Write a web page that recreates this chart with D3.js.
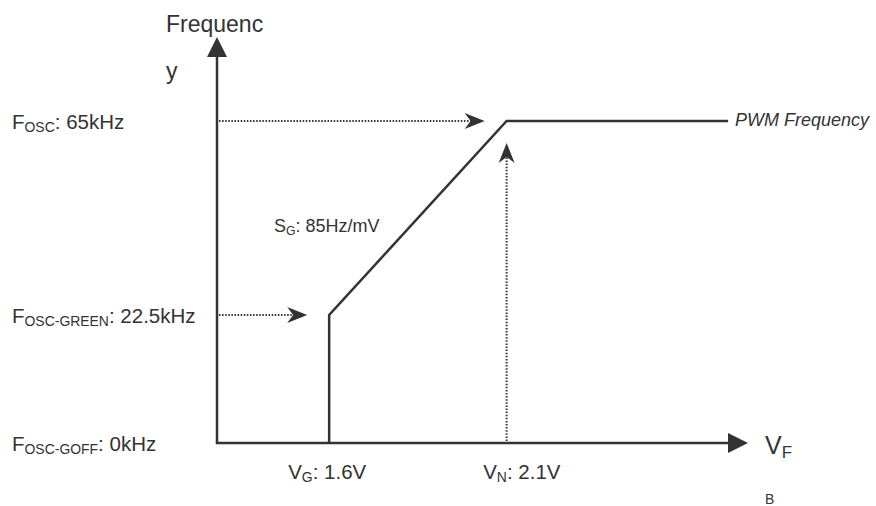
<!DOCTYPE html>
<html>
<head>
<meta charset="utf-8">
<script src="https://cdn.jsdelivr.net/npm/d3@7"></script>
<style>
  html, body { margin: 0; padding: 0; background: #fff; }
  svg { display: block; font-family: "Liberation Sans", Arial, Helvetica, sans-serif; }
</style>
</head>
<body>
<svg id="chart" width="876" height="506"></svg>
<script>
// ---- data ----
const vDomain = [1.284, 2.78];          // V_F axis extent (volts)
const fDomain = [0, 22.5, 65, 82];      // schematic (piecewise) frequency axis, kHz
const curveV = [1.6, 1.6, 2.1, 2.724];  // PWM frequency curve, volts
const curveF = [0, 22.5, 65, 65];       // PWM frequency curve, kHz
const levelValues = [0, 22.5, 65];
const levelSubs = ["OSC-GOFF", "OSC-GREEN", "OSC"];
const levelTexts = [": 0kHz", ": 22.5kHz", ": 65kHz"];
const voltValues = [1.6, 2.1];
const voltSubs = ["G", "N"];
const voltTexts = [": 1.6V", ": 2.1V"];
const slopeText = ": 85Hz/mV";
const curveName = "PWM Frequency";

// ---- layout ----
const svg = d3.select("#chart");
const col = "#333333";
const x = d3.scaleLinear().domain(vDomain).range([217, 748]);
const y = d3.scaleLinear().domain(fDomain).range([443, 315, 121, 37]);

const x0 = x(vDomain[0]), y0 = y(0);
const gap = 22;

function arrowHead(tx, ty, angleDeg, len, half, notch) {
  const p = d3.path();
  p.moveTo(0, 0);
  p.lineTo(-len, -half);
  p.lineTo(-len + notch, 0);
  p.lineTo(-len, half);
  p.closePath();
  svg.append("path")
    .attr("d", p.toString())
    .attr("transform", `translate(${tx},${ty}) rotate(${angleDeg})`)
    .attr("fill", col);
}

// axes lines
svg.append("line")
  .attr("x1", x0).attr("y1", y0).attr("x2", x0).attr("y2", y(fDomain[3]) + 12)
  .attr("stroke", col).attr("stroke-width", 2.5);
arrowHead(x0, y(fDomain[3]), -90, 20, 10, 0);

svg.append("line")
  .attr("x1", x0 - 1.2).attr("y1", y0).attr("x2", x(vDomain[1]) - 12).attr("y2", y0)
  .attr("stroke", col).attr("stroke-width", 2.5);
arrowHead(x(vDomain[1]), y0, 0, 20, 10, 0);

// dotted guide arrows (horizontal)
[1, 2].forEach(i => {
  const yy = y(levelValues[i]);
  const cx = x(d3.min(curveV.filter((v, k) => curveF[k] === levelValues[i])));
  const tip = cx - gap;
  svg.append("line")
    .attr("x1", x0 + 2).attr("y1", yy).attr("x2", tip - 10).attr("y2", yy)
    .attr("stroke", col).attr("stroke-width", 2).attr("stroke-dasharray", "1.5,1.6");
  arrowHead(tip, yy, 0, 20, 8, 6);
});

// dotted guide arrow (vertical) at V_N
{
  const xx = x(voltValues[1]);
  const tip = y(65) + gap;
  svg.append("line")
    .attr("x1", xx).attr("y1", y0 - 2).attr("x2", xx).attr("y2", tip + 10)
    .attr("stroke", col).attr("stroke-width", 2).attr("stroke-dasharray", "1.5,1.6");
  arrowHead(xx, tip, -90, 20, 8, 6);
}

// PWM frequency curve
const line = d3.line().x(d => x(d[0])).y(d => y(d[1]));
svg.append("path")
  .datum(curveV.map((v, i) => [v, curveF[i]]))
  .attr("d", line)
  .attr("fill", "none").attr("stroke", col).attr("stroke-width", 2.5)
  .attr("stroke-linejoin", "miter");

// ---- text ----
function subLabel(tx, ty, main, sub, rest, size, anchor) {
  const t = svg.append("text")
    .attr("x", tx).attr("y", ty)
    .attr("fill", col).attr("font-size", size)
    .attr("text-anchor", anchor || "start");
  t.append("tspan").text(main);
  t.append("tspan").attr("font-size", size * 0.68).attr("dy", size * 0.16).text(sub);
  t.append("tspan").attr("dy", -size * 0.16).text(rest);
  return t;
}

// y-axis title
svg.append("text").attr("x", 166).attr("y", 32)
  .attr("fill", col).attr("font-size", 23).text("Frequenc");
svg.append("text").attr("x", 166).attr("y", 79)
  .attr("fill", col).attr("font-size", 23).text("y");

// level labels
levelValues.forEach((v, i) => {
  subLabel(12, y(v) + 7.5, "F", levelSubs[i], levelTexts[i], 20.5);
});

// voltage labels
voltValues.forEach((v, i) => {
  subLabel(x(v) - 41 + i * 17.5, 479, "V", voltSubs[i], voltTexts[i], 20.5);
});

// x-axis title
subLabel(765, 454, "V", "F", "", 25);

// slope label
subLabel(274, 232, "S", "G", slopeText, 18);

// curve name
svg.append("text").attr("x", 735).attr("y", 126)
  .attr("fill", col).attr("font-size", 18).attr("font-style", "italic")
  .text(curveName);

// footnote
svg.append("text").attr("x", 765).attr("y", 504)
  .attr("fill", col).attr("font-size", 14).text("B");
</script>
</body>
</html>
